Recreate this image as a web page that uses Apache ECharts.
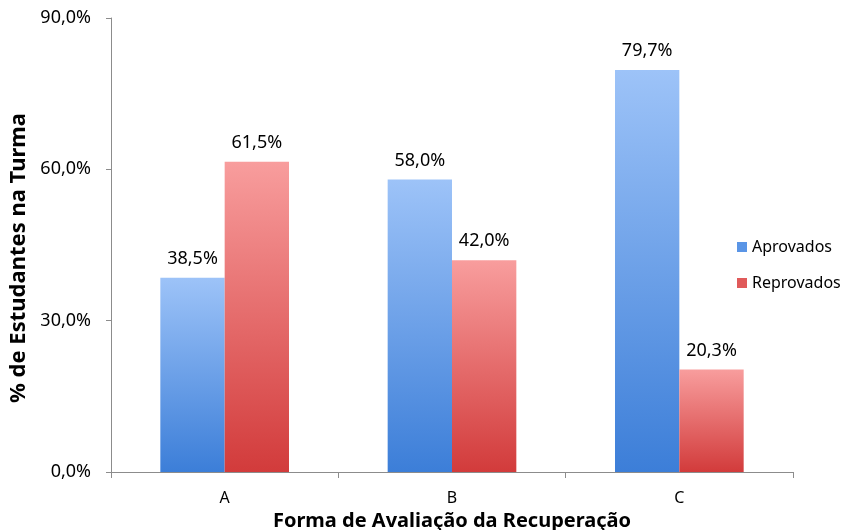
<!DOCTYPE html>
<html><head><meta charset="utf-8">
<script src="https://cdn.jsdelivr.net/npm/echarts@6/dist/echarts.min.js"></script>
<style>html,body{margin:0;padding:0;background:#fff;overflow:hidden}#c{width:848px;height:530px}</style>
</head><body><div id="c"></div>
<script>
const categories = ['A', 'B', 'C'];
const aprovados = [38.5, 58.0, 79.7];
const reprovados = [61.5, 42.0, 20.3];
const yTicks = [0, 30, 60, 90];

const FONT = 'Noto Sans';
const fmt = v => v.toFixed(1).replace('.', ',') + '%';
const grad = (top, bottom) => new echarts.graphic.LinearGradient(0, 0, 0, 1, [
  {offset: 0, color: top}, {offset: 1, color: bottom}]);

const chart = echarts.init(document.getElementById('c'));
chart.setOption({
  animation: false,
  textStyle: {fontFamily: FONT},
  grid: {left: 111, right: 55, top: 18, bottom: 58, outerBoundsMode: 'none', containLabel: false},
  legend: {
    orient: 'vertical', left: 732, top: 234, itemGap: 20,
    itemWidth: 10, itemHeight: 10, icon: 'rect',
    textStyle: {fontFamily: FONT, fontSize: 16, color: '#000'},
    data: [{name: 'Aprovados', itemStyle: {color: '#5a95e6'}}, {name: 'Reprovados', itemStyle: {color: '#e05a5a'}}]
  },
  xAxis: {
    type: 'category', data: categories,
    name: 'Forma de Avaliação da Recuperação', nameLocation: 'middle', nameGap: 34,
    nameTextStyle: {fontFamily: FONT, fontSize: 20, fontWeight: 'bold', color: '#000'},
    axisLine: {lineStyle: {color: '#8c8c8c', width: 1}},
    axisTick: {show: true, length: 6, lineStyle: {color: '#8c8c8c'}},
    axisLabel: {fontFamily: FONT, fontSize: 16, color: '#000', margin: 18}
  },
  yAxis: {
    type: 'value', min: 0, max: 90, interval: 30,
    name: '% de Estudantes na Turma', nameLocation: 'middle', nameGap: 80,
    nameTextStyle: {fontFamily: FONT, fontSize: 22, fontWeight: 'bold', color: '#000', padding: [0, 26, 0, 0]},
    axisLine: {show: true, lineStyle: {color: '#8c8c8c', width: 1}},
    axisTick: {show: true, length: 5, lineStyle: {color: '#8c8c8c'}},
    splitLine: {show: false},
    axisLabel: {fontFamily: FONT, fontSize: 18, color: '#000', margin: 20,
      formatter: v => yTicks.includes(v) ? fmt(v) : ''}
  },
  series: [
    {name: 'Aprovados', type: 'bar', data: aprovados, barWidth: '28.3%', barGap: '0%',
      itemStyle: {color: grad('#9dc3f8', '#3c7ed8')},
      label: {show: true, position: 'top', distance: 10, fontFamily: FONT, fontSize: 18, color: '#000', formatter: p => fmt(p.value)}},
    {name: 'Reprovados', type: 'bar', data: reprovados, barWidth: '28.3%', barGap: '0%',
      itemStyle: {color: grad('#f89d9d', '#d23b3b')},
      label: {show: true, position: 'top', distance: 10, fontFamily: FONT, fontSize: 18, color: '#000', formatter: p => fmt(p.value)}}
  ]
});
</script></body></html>
